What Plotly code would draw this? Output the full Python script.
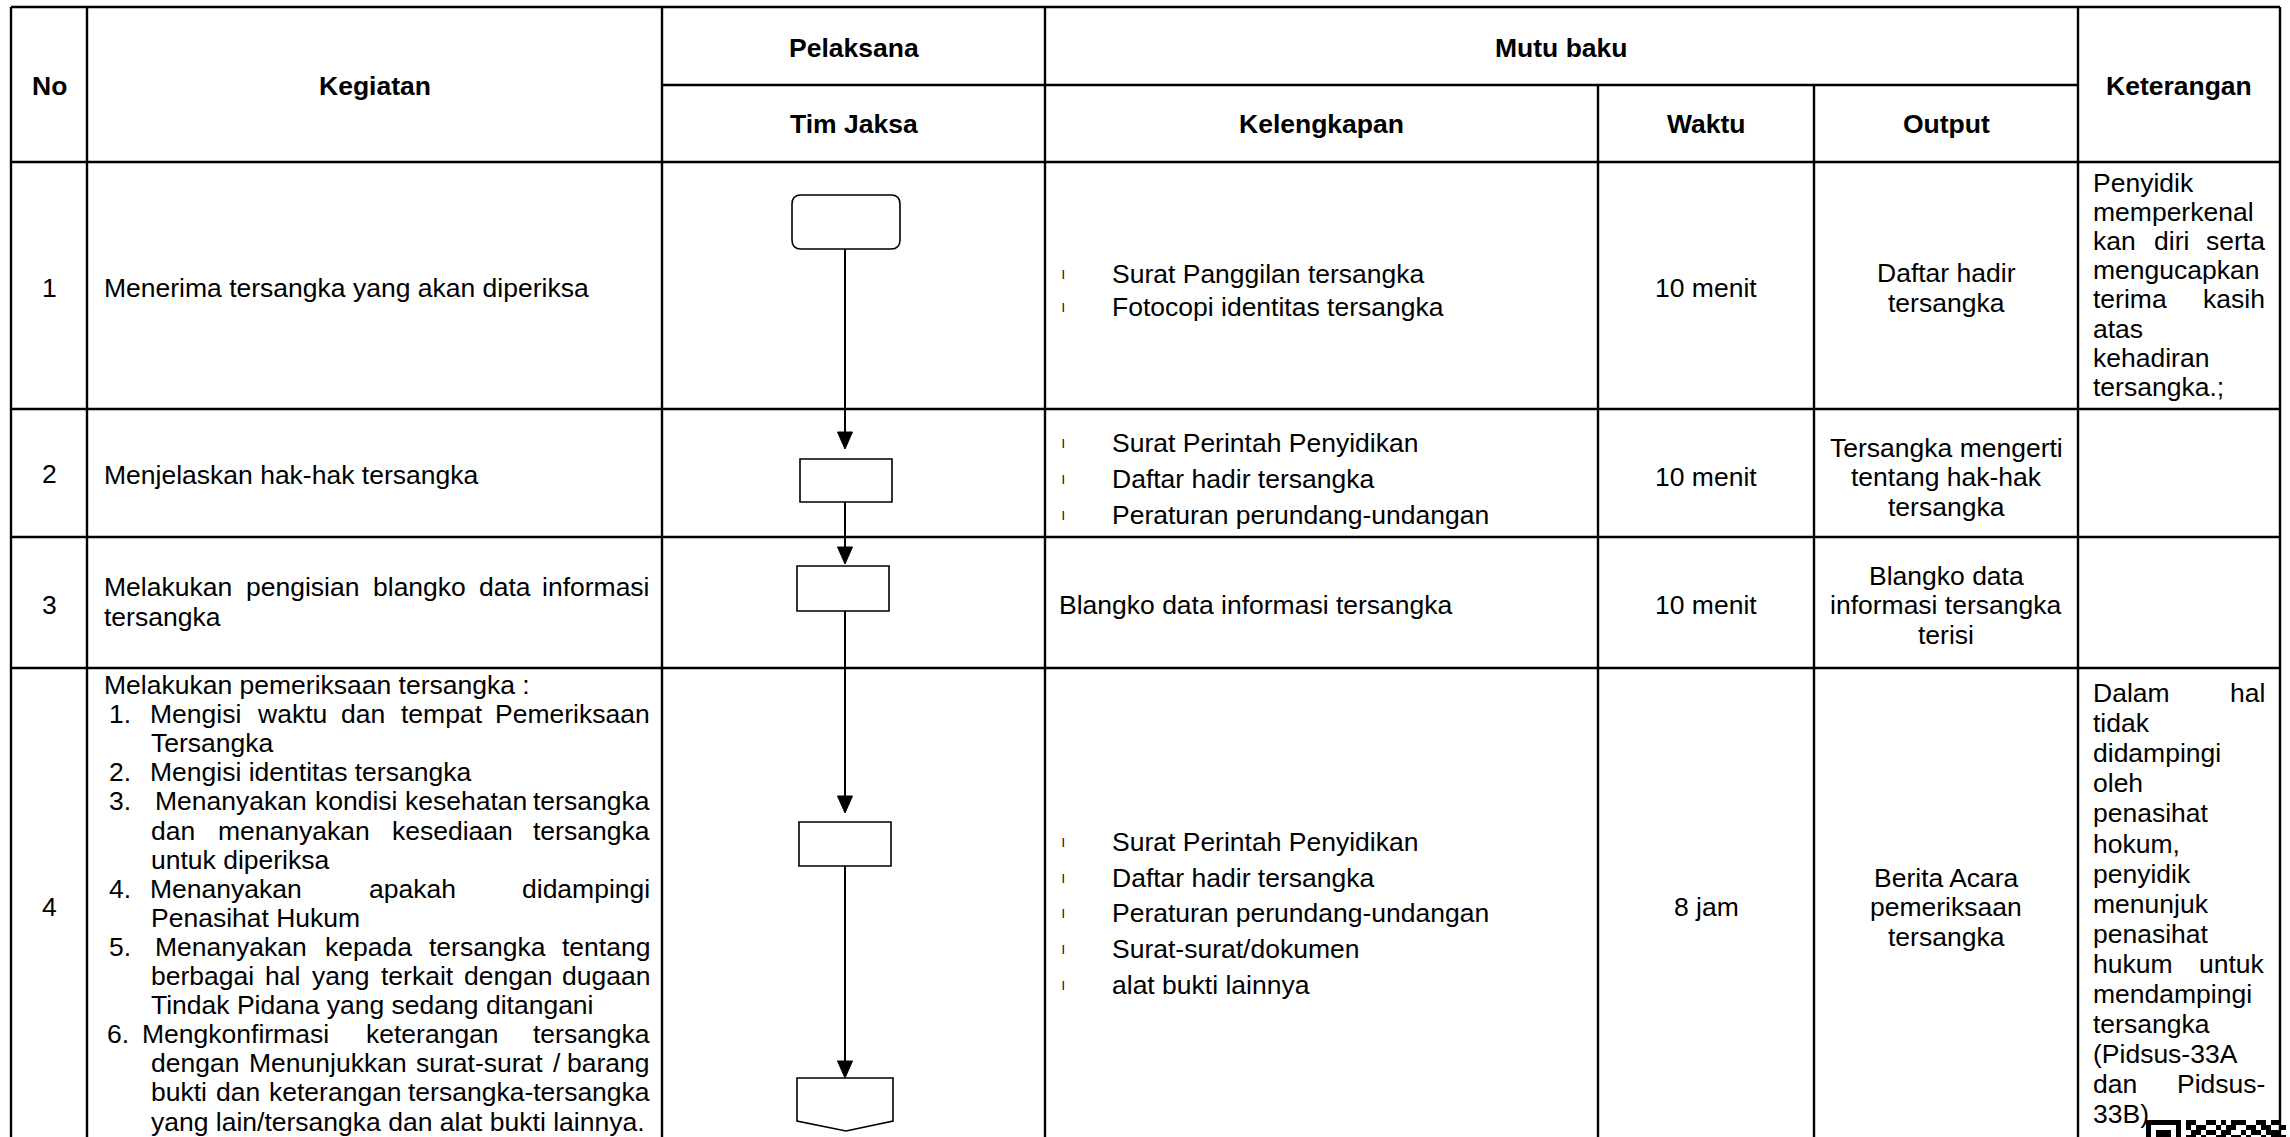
import plotly.graph_objects as go

FONT = "Liberation Sans, Arial, sans-serif"
FS = 26.5

# ---------------- data (texts) ----------------
header_span = ["No", "Kegiatan", "Keterangan"]
header_top = ["Pelaksana", "Mutu baku"]
header_sub = ["Tim Jaksa", "Kelengkapan", "Waktu", "Output"]
row_no = ["1", "2", "3", "4"]
kegiatan_simple = ["Menerima tersangka yang akan diperiksa",
                   "Menjelaskan hak-hak tersangka"]
kegiatan_row3 = [("Melakukan pengisian blangko data informasi", True),
                 ("tersangka", False)]
# (number, text, justified)
kegiatan_row4 = [
    ("", "Melakukan pemeriksaan tersangka :", False),
    ("1.", "Mengisi waktu dan tempat Pemeriksaan", True),
    ("", "Tersangka", False),
    ("2.", "Mengisi identitas tersangka", False),
    ("3.", "Menanyakan kondisi kesehatan tersangka", True),
    ("", "dan menanyakan kesediaan tersangka", True),
    ("", "untuk diperiksa", False),
    ("4.", "Menanyakan apakah didampingi", True),
    ("", "Penasihat Hukum", False),
    ("5.", "Menanyakan kepada tersangka tentang", True),
    ("", "berbagai hal yang terkait dengan dugaan", True),
    ("", "Tindak Pidana yang sedang ditangani", False),
    ("6.", "Mengkonfirmasi keterangan tersangka", True),
    ("", "dengan Menunjukkan surat-surat / barang", True),
    ("", "bukti dan keterangan tersangka-tersangka", True),
    ("", "yang lain/tersangka dan alat bukti lainnya.", False),
]
kelengkapan = [
    ["Surat Panggilan tersangka", "Fotocopi identitas tersangka"],
    ["Surat Perintah Penyidikan", "Daftar hadir tersangka", "Peraturan perundang-undangan"],
    ["Blangko data informasi tersangka"],
    ["Surat Perintah Penyidikan", "Daftar hadir tersangka", "Peraturan perundang-undangan",
     "Surat-surat/dokumen", "alat bukti lainnya"],
]
kelengkapan_bullet = [True, True, False, True]
waktu = ["10 menit", "10 menit", "10 menit", "8 jam"]
output = [
    ["Daftar hadir", "tersangka"],
    ["Tersangka mengerti", "tentang hak-hak", "tersangka"],
    ["Blangko data", "informasi tersangka", "terisi"],
    ["Berita Acara", "pemeriksaan", "tersangka"],
]
keterangan = [
    [("Penyidik", False), ("memperkenal", False), ("kan diri serta", True),
     ("mengucapkan", False), ("terima kasih", True), ("atas", False),
     ("kehadiran", False), ("tersangka.;", False)],
    [], [],
    [("Dalam hal", True), ("tidak", False), ("didampingi", False), ("oleh", False),
     ("penasihat", False), ("hokum,", False), ("penyidik", False), ("menunjuk", False),
     ("penasihat", False), ("hukum untuk", True), ("mendampingi", False),
     ("tersangka", False), ("(Pidsus-33A", False), ("dan Pidsus-", True), ("33B)", False)],
]

# ---------------- layout geometry ----------------
X = [11, 87, 662, 1045, 1598, 1814, 2078, 2280]
Y = [7, 85, 162, 409, 537, 668, 1150]

AW = {' ': 278, '!': 278, '(': 333, ')': 333, ',': 278, '-': 333, '.': 278, '/': 278,
      ':': 278, ';': 278, 'A': 667, 'B': 667, 'C': 722, 'D': 722, 'E': 667, 'F': 611,
      'G': 778, 'H': 722, 'I': 278, 'J': 500, 'K': 667, 'L': 556, 'M': 833, 'N': 722,
      'O': 778, 'P': 667, 'Q': 778, 'R': 722, 'S': 667, 'T': 611, 'U': 722, 'V': 667,
      'W': 944, 'X': 667, 'Y': 667, 'Z': 611, 'a': 556, 'b': 556, 'c': 500, 'd': 556,
      'e': 556, 'f': 278, 'g': 556, 'h': 556, 'i': 222, 'j': 222, 'k': 500, 'l': 222,
      'm': 833, 'n': 556, 'o': 556, 'p': 556, 'q': 556, 'r': 333, 's': 500, 't': 278,
      'u': 556, 'v': 500, 'w': 722, 'x': 500, 'y': 500, 'z': 500}


def tw(s):
    return sum(AW.get(c, 556) for c in s) * FS / 1000.0


ann = []


def txt(x, y, s, anchor="left", bold=False, size=FS):
    ann.append(dict(x=x, y=y, xref="x", yref="y", text=f"<b>{s}</b>" if bold else s,
                    showarrow=False, xanchor=anchor, yanchor="middle", borderpad=0,
                    font=dict(family=FONT, size=size, color="black")))


def line_text(s, x0, x1, y, justify):
    words = s.split()
    if not justify or len(words) < 2:
        txt(x0, y, s)
        return
    widths = [tw(w) for w in words]
    gap = (x1 - x0 - sum(widths)) / (len(words) - 1)
    x = x0
    for i, (w, wd) in enumerate(zip(words, widths)):
        if i == len(words) - 1:
            txt(x1, y, w, anchor="right")
        else:
            txt(x, y, w)
        x += wd + gap


shapes = []


def seg(x0, y0, x1, y1, w=2.4):
    shapes.append(dict(type="line", x0=x0, y0=y0, x1=x1, y1=y1, xref="x", yref="y",
                       line=dict(color="black", width=w)))


def path(d, fill="rgba(0,0,0,0)", w=1.6):
    shapes.append(dict(type="path", path=d, xref="x", yref="y", fillcolor=fill,
                       line=dict(color="black", width=w)))


# grid
seg(X[0], Y[0], X[-1], Y[0])
seg(X[2], Y[1], X[6], Y[1])
for yy in Y[2:6]:
    seg(X[0], yy, X[-1], yy)
for xx in [X[0], X[1], X[2], X[3], X[6], X[7]]:
    seg(xx, Y[0], xx, Y[-1])
for xx in [X[4], X[5]]:
    seg(xx, Y[1], xx, Y[-1])

# headers
txt((X[0] + X[1]) / 2, 86, header_span[0], "center", True)
txt((X[1] + X[2]) / 2, 86, header_span[1], "center", True)
txt((X[6] + X[7]) / 2, 86, header_span[2], "center", True)
txt((X[2] + X[3]) / 2, 48, header_top[0], "center", True)
txt((X[3] + X[6]) / 2, 48, header_top[1], "center", True)
for i, s in enumerate(header_sub):
    txt((X[2 + i] + X[3 + i]) / 2, 124, s, "center", True)

# row numbers
row_mid = [288, 474, 605, 907]
for i, s in enumerate(row_no):
    txt((X[0] + X[1]) / 2, row_mid[i], s, "center")

# kegiatan
KX0, KX1 = 103, 651
txt(KX0, 288, kegiatan_simple[0])
txt(KX0, 475, kegiatan_simple[1])
for j, (s, jf) in enumerate(kegiatan_row3):
    line_text(s, KX0, KX1, 587 + j * 30, jf)
num_x = {"6.": 106}
text_x = {"1.": 149, "2.": 149, "3.": 154, "4.": 149, "5.": 154, "6.": 141}
for j, (n, s, jf) in enumerate(kegiatan_row4):
    yy = 685 + j * 29.1
    if j == 0:
        x0 = KX0
    elif n:
        txt(num_x.get(n, 108), yy, n)
        x0 = text_x[n]
    else:
        x0 = 150
    line_text(s, x0, KX1, yy, jf)

# kelengkapan
kel_y0 = [274, 443, 605, 842]
kel_step = [33, 36, 0, 35.7]
for i, items in enumerate(kelengkapan):
    for j, s in enumerate(items):
        yy = kel_y0[i] + j * kel_step[i]
        if kelengkapan_bullet[i]:
            txt(1063, yy, "<b>|</b>", "center", size=9)
            txt(1111, yy, s)
        else:
            txt(1058, yy, s)

# waktu
waktu_y = [288, 477, 605, 907]
for i, s in enumerate(waktu):
    txt((X[4] + X[5]) / 2, waktu_y[i], s, "center")

# output
out_mid = [288, 477, 605, 907]
for i, lines in enumerate(output):
    n = len(lines)
    for j, s in enumerate(lines):
        txt((X[5] + X[6]) / 2, out_mid[i] + (j - (n - 1) / 2) * 29.5, s, "center")

# keterangan
ket_y0 = [183, 0, 0, 693]
ket_step = [29.1, 0, 0, 30.1]
for i, lines in enumerate(keterangan):
    for j, (s, jf) in enumerate(lines):
        line_text(s, 2092, 2266, ket_y0[i] + j * ket_step[i], jf)

# flowchart
CX = 845
r = 9
x0, x1, y0, y1 = 792, 900, 195, 249
path(f"M{x0+r},{y0} L{x1-r},{y0} Q{x1},{y0} {x1},{y0+r} L{x1},{y1-r} Q{x1},{y1} {x1-r},{y1} "
     f"L{x0+r},{y1} Q{x0},{y1} {x0},{y1-r} L{x0},{y0+r} Q{x0},{y0} {x0+r},{y0} Z")
boxes = [(800, 892, 459, 502), (797, 889, 566, 611), (799, 891, 822, 866)]
for bx0, bx1, by0, by1 in boxes:
    path(f"M{bx0},{by0} L{bx1},{by0} L{bx1},{by1} L{bx0},{by1} Z")
path("M797,1078 L893,1078 L893,1121 L846,1131 L797,1121 Z")

arrows = [(249, 449), (502, 564), (611, 813), (866, 1078)]
for a0, a1 in arrows:
    seg(CX, a0, CX, a1 - 10, 2)
    path(f"M{CX-7.5},{a1-17} L{CX+7.5},{a1-17} L{CX},{a1} Z", fill="black", w=1)

# QR-like fragment at bottom right corner
qr_rows = ["1111111011001101011100110110",
           "1000001010110010110011011001",
           "1011101001101101100101101110",
           "1011101011010011011010010111"]
m = 5
for ri, row in enumerate(qr_rows):
    for ci, c in enumerate(row):
        if c == "1":
            shapes.append(dict(type="rect", x0=2146 + ci * m, x1=2146 + (ci + 1) * m,
                               y0=1120 + ri * m, y1=1120 + (ri + 1) * m, xref="x", yref="y",
                               fillcolor="black", line=dict(width=0)))

fig = go.Figure()
fig.update_layout(
    width=2290, height=1137, margin=dict(l=0, r=0, t=0, b=0),
    paper_bgcolor="white", plot_bgcolor="white",
    xaxis=dict(range=[0, 2290], visible=False, fixedrange=True),
    yaxis=dict(range=[1137, 0], visible=False, fixedrange=True),
    shapes=shapes, annotations=ann, showlegend=False,
)
fig.write_html("out.html", config={"displayModeBar": False},
               post_script="document.body.style.margin='0';document.body.style.overflow='hidden';")
